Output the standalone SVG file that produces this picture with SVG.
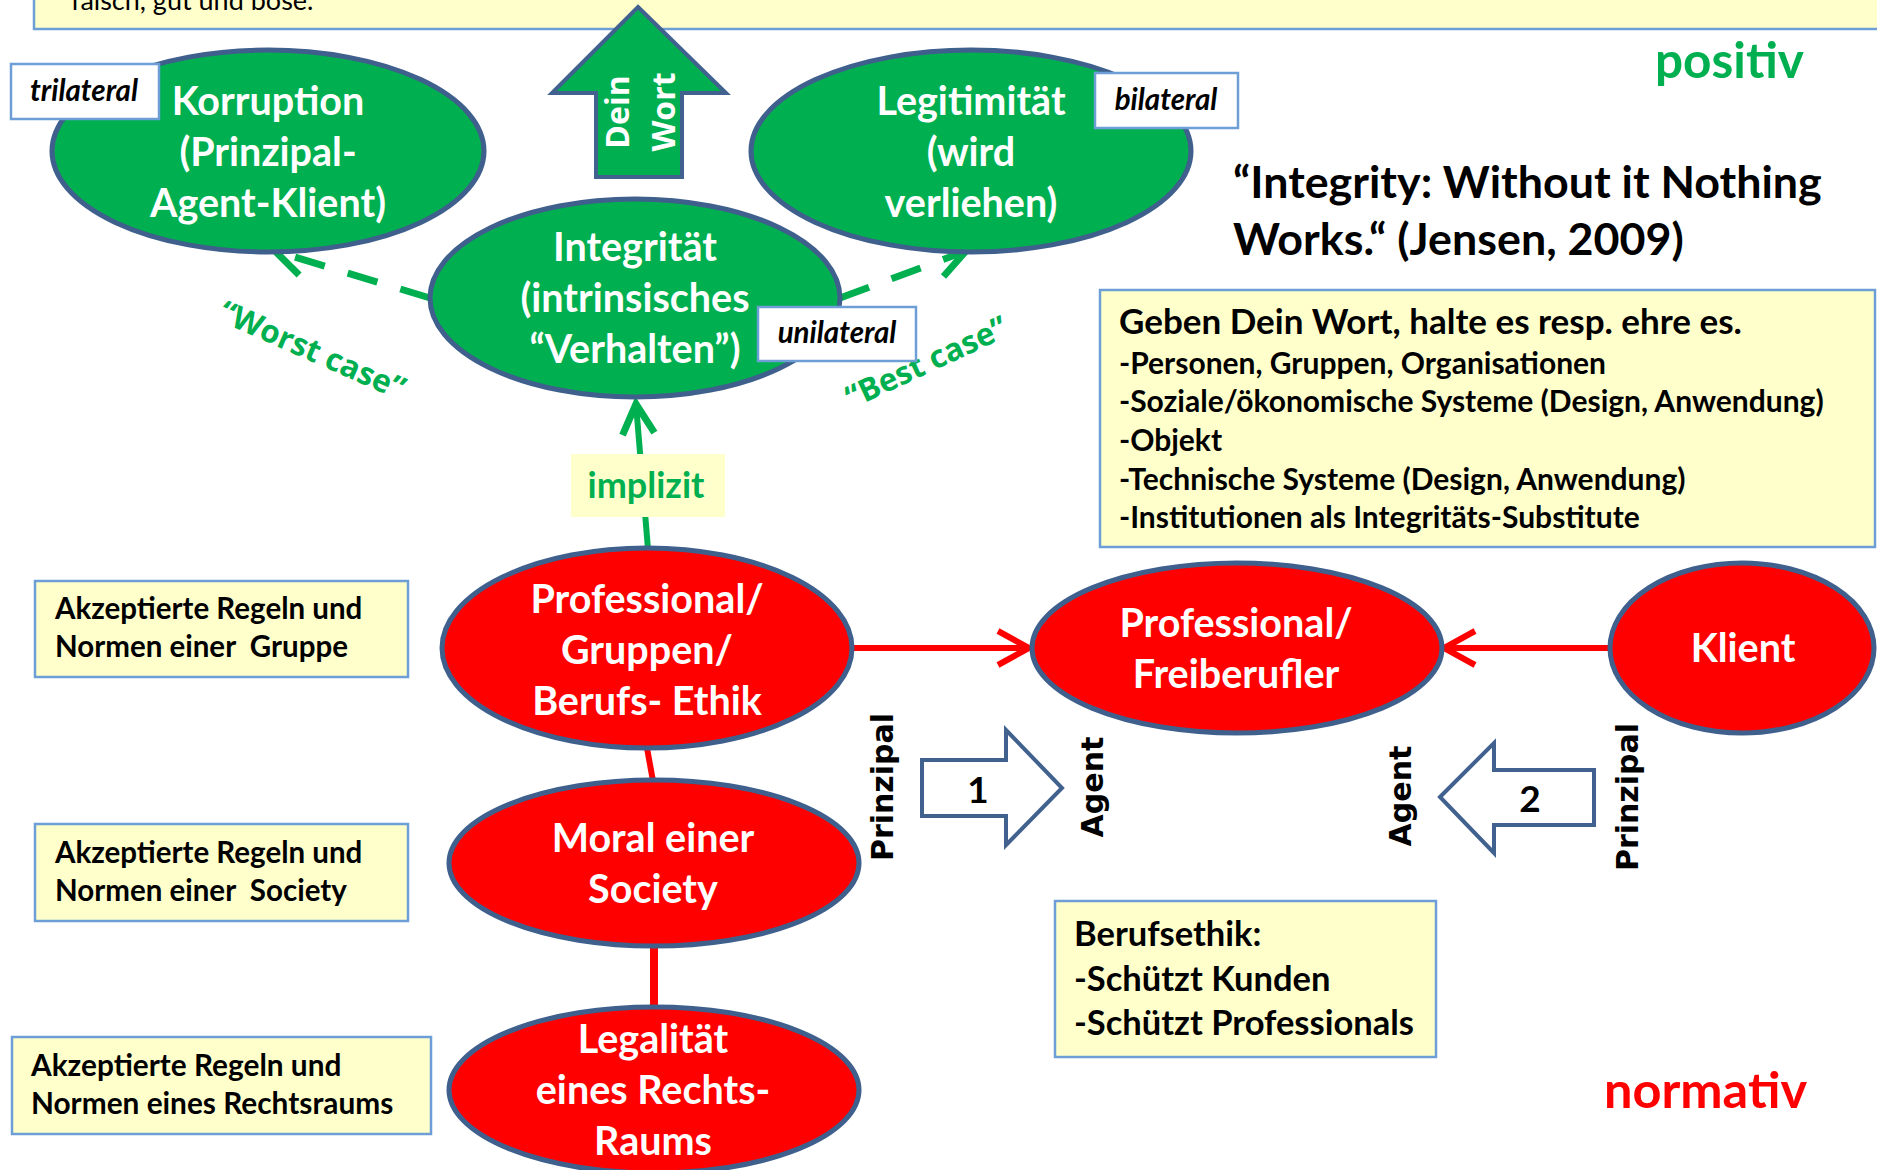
<svg xmlns="http://www.w3.org/2000/svg" width="1877" height="1170" viewBox="0 0 1877 1170">
<defs>
<style>
text{font-family:Lato,'Noto Sans',sans-serif;font-weight:700}
.ell{stroke:#3F5F8C;stroke-width:5}
.g{fill:#00B050}
.r{fill:#FF0000}
.wt{fill:#fff;font-size:39.5px;text-anchor:middle}
.note{fill:#FFFFCC;stroke:#6E9ED6;stroke-width:2.5}
.lbl{fill:#fff;stroke:#6E9ED6;stroke-width:2.5}
.lt{font-style:italic;font-size:29.5px;fill:#000;text-anchor:middle}
.bt{fill:#000}
.blk{fill:#fff;stroke:#41618F;stroke-width:4;stroke-linejoin:miter}
.vt{font-family:'DejaVu Sans',Verdana,sans-serif;font-size:30px;fill:#000;text-anchor:middle}
.case{font-family:'Open Sans',sans-serif;font-size:31.5px;fill:#00B050;text-anchor:middle}
.gl{stroke:#00B050;fill:none}
.rl{stroke:#FF0000;fill:none}
</style>
<marker id="hg" markerUnits="userSpaceOnUse" viewBox="-40 -25 50 50" markerWidth="50" markerHeight="50" refX="0" refY="0" orient="auto" overflow="visible">
<path d="M-30,-16 L0,0 L-30,16" fill="none" stroke="#00B050" stroke-width="7"/>
</marker>
<marker id="hr" markerUnits="userSpaceOnUse" viewBox="-40 -25 50 50" markerWidth="50" markerHeight="50" refX="0" refY="0" orient="auto" overflow="visible">
<path d="M-31,-17 L0,0 L-31,17" fill="none" stroke="#FF0000" stroke-width="6"/>
</marker>
</defs>
<rect width="1877" height="1170" fill="#fff"/>

<g id="top-note">
<rect class="note" x="34" y="-20" width="1900" height="49"/>
<text x="71" y="10" style="font-weight:400;font-size:27px" fill="#000">falsch, gut und böse.</text>
</g>

<g id="connectors">
<line class="gl" x1="430" y1="298" x2="275" y2="251" stroke-width="7" stroke-dasharray="31 24" marker-end="url(#hg)"/>
<line class="gl" x1="840" y1="298" x2="966" y2="251" stroke-width="7" stroke-dasharray="31 24" marker-end="url(#hg)"/>
<line class="gl" x1="648" y1="549" x2="636" y2="404" stroke-width="6" marker-end="url(#hg)"/>
<line class="rl" x1="853" y1="648" x2="1029" y2="648" stroke-width="6" marker-end="url(#hr)"/>
<line class="rl" x1="1610" y1="648" x2="1444" y2="648" stroke-width="6" marker-end="url(#hr)"/>
<line class="rl" x1="647" y1="748" x2="653" y2="781" stroke-width="6"/>
<line class="rl" x1="654" y1="946" x2="654" y2="1008" stroke-width="8"/>
<g id="implizit-label">
<rect x="571" y="454" width="154" height="63" fill="#FFFFCC"/>
<text x="646" y="498" style="font-size:36px" fill="#00B050" text-anchor="middle">implizit</text>
</g>
<text class="case" transform="translate(308,360) rotate(23.7)">“Worst case”</text>
<text class="case" transform="translate(931,372) rotate(-25)">“Best case”</text>
</g>

<g id="dein-wort">
<polygon points="638,7 726,93 682,93 682,177 596,177 596,93 552,93" fill="#00B050" stroke="#41618F" stroke-width="4"/>
<text transform="translate(629,112) rotate(-90)" style="font-family:'Open Sans',sans-serif;font-size:32px" fill="#fff" text-anchor="middle">Dein</text>
<text transform="translate(675,112) rotate(-90)" style="font-family:'Open Sans',sans-serif;font-size:32px" fill="#fff" text-anchor="middle">Wort</text>
</g>

<g id="korruption">
<ellipse class="ell g" cx="268" cy="151" rx="216" ry="101"/>
<text class="wt" x="268" y="115">Korruption</text>
<text class="wt" x="268" y="166">(Prinzipal-</text>
<text class="wt" x="268" y="217">Agent-Klient)</text>
</g>
<g id="trilateral">
<rect class="lbl" x="11" y="64" width="148" height="55"/>
<text class="lt" x="84" y="101">trilateral</text>
</g>

<g id="legitimitaet">
<ellipse class="ell g" cx="971" cy="151" rx="220" ry="101"/>
<text class="wt" x="971" y="115">Legitimität</text>
<text class="wt" x="971" y="166">(wird</text>
<text class="wt" x="971" y="217">verliehen)</text>
</g>
<g id="bilateral">
<rect class="lbl" x="1095" y="73" width="143" height="55"/>
<text class="lt" x="1166" y="110">bilateral</text>
</g>

<g id="integritaet">
<ellipse class="ell g" cx="635" cy="298" rx="205" ry="99"/>
<text class="wt" x="635" y="261">Integrität</text>
<text class="wt" x="635" y="312">(intrinsisches</text>
<text class="wt" x="635" y="363">“Verhalten”)</text>
</g>
<g id="unilateral">
<rect class="lbl" x="758" y="307" width="158" height="54"/>
<text class="lt" x="837" y="343">unilateral</text>
</g>

<g id="positiv">
<text x="1655" y="78" style="font-size:49.5px" fill="#00B050">positiv</text>
</g>

<g id="quote">
<text x="1233" y="198" style="font-size:44.8px" fill="#000">“Integrity: Without it Nothing</text>
<text x="1233" y="255" style="font-size:44.8px" fill="#000">Works.“ (Jensen, 2009)</text>
</g>

<g id="geben-box">
<rect class="note" x="1100" y="290" width="775" height="257"/>
<text class="bt" x="1119" y="334" style="font-size:35px">Geben Dein Wort, halte es resp. ehre es.</text>
<text class="bt" x="1119" y="374" style="font-size:30px">-Personen, Gruppen, Organisationen</text>
<text class="bt" x="1119" y="412" style="font-size:30px">-Soziale/ökonomische Systeme (Design, Anwendung)</text>
<text class="bt" x="1119" y="451" style="font-size:30px">-Objekt</text>
<text class="bt" x="1119" y="490" style="font-size:30px">-Technische Systeme (Design, Anwendung)</text>
<text class="bt" x="1119" y="528" style="font-size:30px">-Institutionen als Integritäts-Substitute</text>
</g>

<g id="note-gruppe">
<rect class="note" x="35" y="581" width="373" height="96"/>
<text class="bt" x="55" y="619" style="font-size:29.5px" xml:space="preserve">Akzeptierte Regeln und</text>
<text class="bt" x="55" y="657" style="font-size:29.5px" xml:space="preserve">Normen einer  Gruppe</text>
</g>
<g id="note-society">
<rect class="note" x="35" y="824" width="373" height="97"/>
<text class="bt" x="55" y="863" style="font-size:29.5px" xml:space="preserve">Akzeptierte Regeln und</text>
<text class="bt" x="55" y="901" style="font-size:29.5px" xml:space="preserve">Normen einer  Society</text>
</g>
<g id="note-rechtsraum">
<rect class="note" x="12" y="1037" width="419" height="97"/>
<text class="bt" x="31" y="1076" style="font-size:29.8px">Akzeptierte Regeln und</text>
<text class="bt" x="31" y="1114" style="font-size:29.8px">Normen eines Rechtsraums</text>
</g>

<g id="professional-ethik">
<ellipse class="ell r" cx="647" cy="648" rx="205" ry="100"/>
<text class="wt" x="647" y="613">Professional/</text>
<text class="wt" x="647" y="664">Gruppen/</text>
<text class="wt" x="647" y="715">Berufs- Ethik</text>
</g>
<g id="moral">
<ellipse class="ell r" cx="654" cy="863" rx="205" ry="83"/>
<text class="wt" x="653" y="852">Moral einer</text>
<text class="wt" x="653" y="903">Society</text>
</g>
<g id="legalitaet">
<ellipse class="ell r" cx="654" cy="1090" rx="205" ry="83"/>
<text class="wt" x="653" y="1053">Legalität</text>
<text class="wt" x="653" y="1104">eines Rechts-</text>
<text class="wt" x="653" y="1155">Raums</text>
</g>
<g id="freiberufler">
<ellipse class="ell r" cx="1237" cy="648" rx="205" ry="85"/>
<text class="wt" x="1236" y="637">Professional/</text>
<text class="wt" x="1236" y="688">Freiberufler</text>
</g>
<g id="klient">
<ellipse class="ell r" cx="1742" cy="648" rx="132" ry="85"/>
<text class="wt" x="1743" y="662">Klient</text>
</g>

<g id="arrow-1">
<polygon class="blk" points="922,760 1006,760 1006,730 1062,788 1006,845 1006,816 922,816"/>
<text x="978" y="803" style="font-size:37px" fill="#000" text-anchor="middle">1</text>
</g>
<g id="arrow-2">
<polygon class="blk" points="1440,797 1494,743 1494,770 1594,770 1594,825 1494,825 1494,853"/>
<text x="1530" y="812" style="font-size:37px" fill="#000" text-anchor="middle">2</text>
</g>
<g id="roles">
<text class="vt" transform="translate(893,787) rotate(-90)">Prinzipal</text>
<text class="vt" transform="translate(1103,787) rotate(-90)">Agent</text>
<text class="vt" transform="translate(1411,796) rotate(-90)">Agent</text>
<text class="vt" transform="translate(1638,797) rotate(-90)">Prinzipal</text>
</g>

<g id="berufsethik-box">
<rect class="note" x="1055" y="901" width="381" height="156"/>
<text class="bt" x="1074" y="946" style="font-size:34.5px">Berufsethik:</text>
<text class="bt" x="1074" y="991" style="font-size:34.5px">-Schützt Kunden</text>
<text class="bt" x="1074" y="1035" style="font-size:34.5px">-Schützt Professionals</text>
</g>

<g id="normativ">
<text x="1604" y="1108" style="font-size:50.5px" fill="#FF0000">normativ</text>
</g>
</svg>
